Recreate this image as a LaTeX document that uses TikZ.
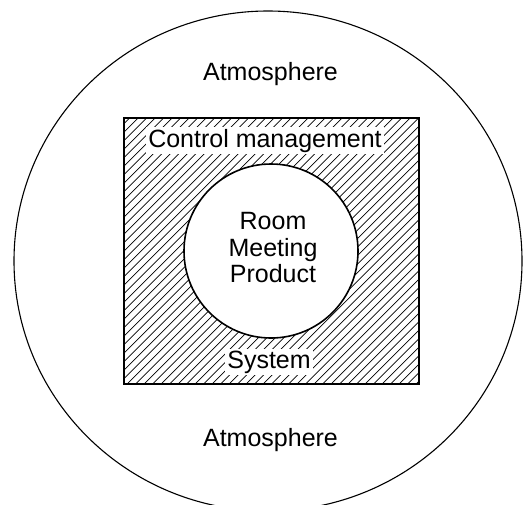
\documentclass[tikz,border=0pt]{standalone}
\usepackage{fontspec}
\setmainfont{Liberation Sans}
\usetikzlibrary{positioning}

\begin{document}
\begin{tikzpicture}[x=1pt, y=-1pt, semithick,
    label/.style={font=\fontsize{25}{26.5}\selectfont, inner sep=0pt},
    cut/.style={label, fill=white, inner sep=2pt},
    hatch/.style={line width=0.7pt}]
  \useasboundingbox (0,0) rectangle (526,504);

  % hatching between the box and the room
  \begin{scope}[even odd rule]
    \clip (124,118) rectangle (419,384) (271,251) circle (87);
    \foreach \i in {-270,-261.5,...,430}
      \draw[hatch] (\i,390) -- ++(280,-280);
  \end{scope}

  \draw[line width=1.1pt] (268,261) ellipse (254 and 250); % outer
  \node[draw, line width=1.6pt, minimum width=295pt, minimum height=266pt] (S) at (271.5,251) {};
  \node[draw, circle, fill=white, line width=1.6pt, minimum size=174pt] (R) at (271,251) {};

  \node[label, anchor=base] (A1) at (270.5,80) {Atmosphere};
  \node[label, anchor=base] (A2) at (270.5,446) {Atmosphere};
  \node[cut, anchor=base] (C) at (265,147) {Control management};
  \node[cut, anchor=base] (Sy) at (269,368) {System};
  \node[label, align=center] (P) at (273,248) {Room\\Meeting\\Product};
\end{tikzpicture}
\end{document}
